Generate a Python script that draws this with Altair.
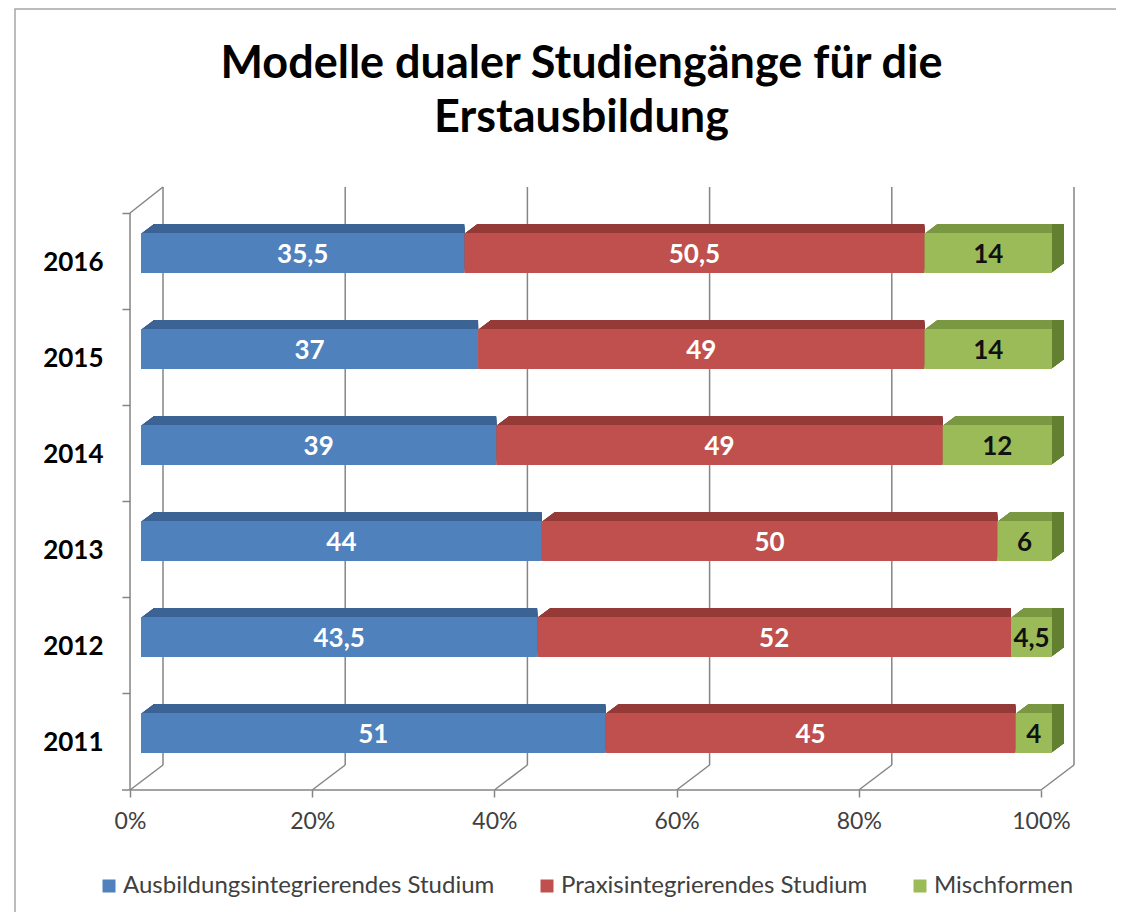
import altair as alt
import pandas as pd

years = ["2016", "2015", "2014", "2013", "2012", "2011"]
series = ["Ausbildungsintegrierendes Studium", "Praxisintegrierendes Studium", "Mischformen"]
ausbildung = [35.5, 37, 39, 44, 43.5, 51]
praxis = [50.5, 49, 49, 50, 52, 45]
misch = [14, 14, 12, 6, 4.5, 4]
ticks = [0, 20, 40, 60, 80, 100]
title_lines = ["Modelle dualer Studiengänge für die", "Erstausbildung"]

front_colors = ["#4F81BD", "#C0504D", "#9BBB59"]
top_colors = ["#3B6393", "#953A37", "#7A9842"]
side_color = "#62802F"
gc = "#858585"
FONT = "Lato"

rows = []
for si, (name, vals) in enumerate(zip(series, [ausbildung, praxis, misch])):
    for y, v in zip(years, vals):
        rows.append({"year": y, "series": name, "order": si, "value": v,
                     "label": f"{v:g}".replace(".", ",")})
df = pd.DataFrame(rows)
grid_df = pd.DataFrame({"v": ticks})
span_df = pd.DataFrame({"a": [ticks[0]], "b": [ticks[-1]]})

xs = alt.Scale(domain=[ticks[0], ticks[-1]], nice=False, zero=True)
ys = alt.Scale(domain=years, paddingInner=0.583, paddingOuter=0.2915)

x_axis = alt.Axis(values=ticks, labelExpr="datum.value + '%'", offset=9, tickOffset=-11,
                  labelFlush=False,
                  domain=False, grid=False, tickSize=7, tickColor=gc, tickWidth=1.5,
                  labelFont=FONT, labelFontSize=23, labelColor="#404040", labelPadding=13,
                  title=None)
y_axis = alt.Axis(bandPosition=0, tickOffset=-20, labelOffset=29, domain=False, grid=False,
                  tickSize=8, tickColor=gc, tickWidth=1.5, offset=11, labelFont=FONT,
                  labelFontWeight="bold", labelFontSize=26, labelColor="black",
                  labelPadding=19, title=None)


def X(field):
    return alt.X(field, scale=xs, axis=x_axis, title=None)


Y = alt.Y("year:N", sort=years, scale=ys, axis=y_axis, title=None)

base = alt.Chart(df).transform_stack(
    stack="value", groupby=["year"], as_=["x0", "x1"],
    sort=[alt.SortField("order", order="ascending")]
).transform_calculate(mid="(datum.x0 + datum.x1) / 2")

layers = []

# back wall gridlines
layers.append(alt.Chart(grid_df).mark_rule(color=gc, strokeWidth=1.5, xOffset=22).encode(
    x=X("v:Q"), y=alt.value(-18), y2=alt.value(560)))
# floor diagonals
layers.append(alt.Chart(grid_df).mark_rule(color=gc, strokeWidth=1.5, xOffset=22, x2Offset=-11).encode(
    x=X("v:Q"), x2="v:Q", y=alt.value(560), y2=alt.value(585)))
# floor front edge
layers.append(alt.Chart(span_df).mark_rule(color=gc, strokeWidth=1.5, xOffset=-11, x2Offset=-11).encode(
    x=X("a:Q"), x2="b:Q", y=alt.value(585)))
# left wall front edge
layers.append(alt.Chart(span_df).mark_rule(color=gc, strokeWidth=1.5, xOffset=-11).encode(
    x=X("a:Q"), y=alt.value(8), y2=alt.value(585)))
# left wall top diagonal
layers.append(alt.Chart(span_df).mark_rule(color=gc, strokeWidth=1.5, xOffset=-11, x2Offset=22).encode(
    x=X("a:Q"), x2="a:Q", y=alt.value(8), y2=alt.value(-18)))
# last category tick at the floor corner
layers.append(alt.Chart(span_df).mark_rule(color=gc, strokeWidth=1.5, xOffset=-19, x2Offset=-11).encode(
    x=X("a:Q"), x2="a:Q", y=alt.value(585)))

# extrusion (top faces)
for i in range(1, 10):
    layers.append(base.mark_bar(xOffset=i * 12 / 9, yOffset=-i).encode(
        x=X("x0:Q"), x2="x1:Q", y=Y,
        fill=alt.Fill("order:O", scale=alt.Scale(domain=[0, 1, 2], range=top_colors), legend=None)))

# side face of last segment
for i in range(1, 10):
    layers.append(base.transform_filter("datum.order == 2").mark_bar(
        color=side_color, xOffset=0, x2Offset=i * 12 / 9, yOffset=-i).encode(
        x=X("x1:Q"), x2="x1:Q", y=Y))

# front faces
front = base.mark_bar().encode(
    x=X("x0:Q"), x2="x1:Q", y=Y,
    color=alt.Color("series:N", scale=alt.Scale(domain=series, range=front_colors),
                    legend=alt.Legend(title=None, orient="none", legendX=-44, legendY=669,
                                      direction="horizontal", symbolType="square", symbolSize=169,
                                      symbolStrokeWidth=0, labelFont=FONT, labelFontSize=24,
                                      labelColor="#404040", columnPadding=40, labelOffset=2,
                                      labelLimit=0)))
layers.append(front)

layers.append(base.transform_filter("datum.order < 2").mark_text(
    font=FONT, fontWeight="bold", fontSize=26, color="white", dy=2).encode(
    x=X("mid:Q"), y=Y, text="label:N"))
layers.append(base.transform_filter("datum.order == 2").mark_text(
    font=FONT, fontWeight="bold", fontSize=26, color="#111111", dy=2).encode(
    x=X("mid:Q"), y=Y, text="label:N"))

# chart frame
layers.append(alt.Chart(span_df).mark_rect(fillOpacity=0, stroke="#A6A6A6", strokeWidth=1.5).encode(
    x=alt.value(-126), y=alt.value(-196), x2=alt.value(1000), y2=alt.value(730)))

chart = alt.layer(*layers).properties(
    width=911, height=576,
    background="white",
    title=alt.TitleParams(text=title_lines, anchor="middle", frame="group", fontSize=45,
                          font=FONT, fontWeight="bold", color="black", lineHeight=54,
                          offset=-133, dx=-15),
    autosize=alt.AutoSizeParams(type="none"),
    padding={"left": 133, "top": 197, "right": 64, "bottom": 131},
).configure_view(stroke=None)

chart.save("out.html", embed_options={"renderer": "svg", "actions": False})
